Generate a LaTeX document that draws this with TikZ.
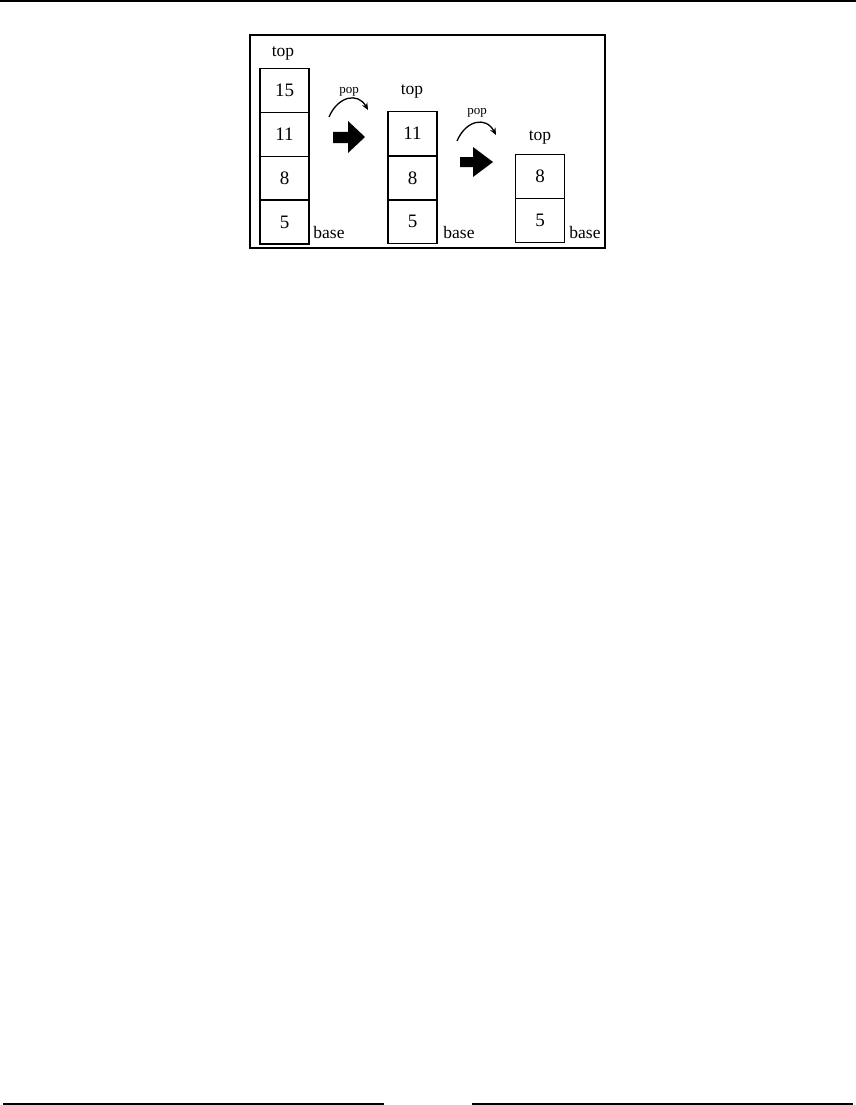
\documentclass[tikz,border=0pt]{standalone}
\usepackage{fontspec}
\setmainfont{Liberation Serif}
\usetikzlibrary{arrows.meta}
\begin{document}
\begin{tikzpicture}[x=1pt,y=-1pt,
  cell/.style={draw,line width=1.7pt,minimum width=49pt,minimum height=44pt,inner sep=0pt,font=\fontsize{19}{19}\selectfont},
  lbl/.style={inner sep=0pt,font=\fontsize{17.5}{17.5}\selectfont},
  poplbl/.style={inner sep=0pt,font=\fontsize{13}{13}\selectfont},
  poparrow/.style={line width=1.3pt,-{Stealth[length=7pt,width=6pt]}}]
\useasboundingbox (0,0) rectangle (856,1105);
% page rules
\draw[line width=2pt] (0,1) -- (856,1);
\draw[line width=1.2pt] (3,1104) -- (384,1104);
\draw[line width=1.2pt] (472,1104) -- (853,1104);
% frame
\draw[line width=2pt] (250,35) rectangle (605,248);
% stack 1
\node[cell] (a1) at (284.5,90.5) {15};
\node[cell] (a2) at (284.5,134.5) {11};
\node[cell] (a3) at (284.5,178.5) {8};
\node[cell] (a4) at (284.5,222) {5};
\node[lbl] (at) at (283,53) {top};
\node[lbl] (ab) at (329,233) {base};
% pop 1
\node[poplbl] (p1) at (349,92) {pop};
\coordinate (p1s) at (329,117);
\coordinate (p1e) at (368,110);
\draw[poparrow] (p1s) .. controls (338,96) and (358,92) .. (p1e);
\fill[black] (333,132) -- (348,132) -- (348,121) -- (365,137) -- (348,153) -- (348,143) -- (333,143) -- cycle;
% stack 2
\node[cell] (b1) at (412.5,133.5) {11};
\node[cell] (b2) at (412.5,178) {8};
\node[cell] (b3) at (412.5,221.5) {5};
\node[lbl] (bt) at (412,91) {top};
\node[lbl] (bb) at (459,233) {base};
% pop 2
\node[poplbl] (p2) at (477,113) {pop};
\coordinate (p2s) at (457,141);
\coordinate (p2e) at (496,135);
\draw[poparrow] (p2s) .. controls (466,120) and (486,116) .. (p2e);
\fill[black] (460,157) -- (473,157) -- (473,147) -- (493,162) -- (473,177) -- (473,167) -- (460,167) -- cycle;
% stack 3
\node[cell] (c1) at (540,176.5) {8};
\node[cell] (c2) at (540,220.5) {5};
\node[lbl] (ct) at (540,137) {top};
\node[lbl] (cb) at (585,233) {base};
\end{tikzpicture}
\end{document}
